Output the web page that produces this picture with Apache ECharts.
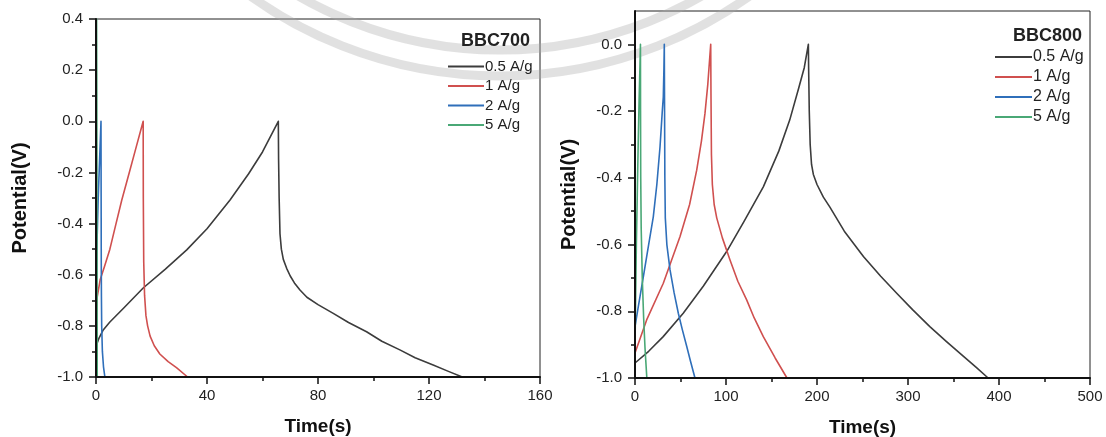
<!DOCTYPE html>
<html>
<head>
<meta charset="utf-8">
<script src="https://cdn.jsdelivr.net/npm/echarts@6/dist/echarts.min.js"></script>
<style>
html,body{margin:0;padding:0;background:#fff;}
#c{width:1106px;height:437px;}
</style>
</head>
<body>
<div id="c"></div>
<script>
// ---------- data: [time (s), potential (V)] ----------
const seriesNames = ['0.5 A/g', '1 A/g', '2 A/g', '5 A/g'];
const titleLeft = 'BBC700';
const titleRight = 'BBC800';

const bbc700_05 = [[0,-0.88],[1,-0.85],[2.6,-0.816],[5,-0.785],[10,-0.73],[17,-0.652],[25,-0.578],[32.7,-0.503],[40,-0.42],[48.3,-0.308],[55,-0.205],[60,-0.12],[65.7,0],
  [65.8,-0.15],[66,-0.3],[66.3,-0.44],[66.8,-0.5],[67.5,-0.54],[68.7,-0.575],[70,-0.605],[71.5,-0.632],[73.5,-0.66],[76,-0.688],[80,-0.717],[85.5,-0.751],[91,-0.787],[97.5,-0.823],[103,-0.86],[109.5,-0.894],[115,-0.925],[121.5,-0.953],[127,-0.978],[132,-1.0]];
const bbc700_1 = [[0,-0.79],[0.4,-0.69],[1.5,-0.62],[3,-0.57],[5,-0.5],[7,-0.41],[9.25,-0.31],[12,-0.2],[14.5,-0.1],[17,0],
  [17.05,-0.3],[17.2,-0.55],[17.5,-0.68],[18,-0.76],[18.6,-0.8],[19.5,-0.84],[21,-0.878],[23,-0.91],[26,-0.94],[29,-0.963],[33,-1.0]];
const bbc700_2 = [[0,-0.8],[0.3,-0.5],[0.8,-0.3],[1.3,-0.15],[1.8,0],
  [1.85,-0.3],[1.9,-0.55],[1.95,-0.68],[2.05,-0.8],[2.3,-0.9],[2.7,-0.96],[3.2,-1.0]];
const bbc700_5 = [[0,-1.0],[0.08,-0.4],[0.15,0.1],[0.22,0.4],[0.3,0.1],[0.38,-0.5],[0.45,-1.0]];

const bbc800_05 = [[0,-0.955],[15,-0.92],[31,-0.876],[53,-0.806],[75,-0.725],[100.7,-0.621],[120,-0.53],[141,-0.427],[158,-0.32],[170,-0.227],[180,-0.13],[186,-0.07],[190.5,0],
  [190.8,-0.07],[191.5,-0.2],[192.5,-0.3],[194,-0.36],[196,-0.39],[200,-0.42],[207,-0.458],[214,-0.487],[230,-0.56],[251,-0.636],[270,-0.695],[287.6,-0.746],[305,-0.795],[324,-0.846],[342,-0.89],[361,-0.935],[375,-0.968],[388,-1.0]];
const bbc800_1 = [[0,-0.925],[12.8,-0.826],[31.1,-0.716],[49.5,-0.576],[60,-0.48],[67.8,-0.377],[73,-0.29],[76.9,-0.207],[80,-0.12],[83.2,0],
  [83.5,-0.15],[84,-0.33],[85,-0.42],[87,-0.48],[89.8,-0.52],[96,-0.58],[104.4,-0.646],[113,-0.71],[122.7,-0.766],[131,-0.82],[141,-0.876],[154,-0.94],[167,-1.0]];
const bbc800_2 = [[0,-0.846],[4,-0.78],[9.2,-0.696],[15,-0.6],[20.1,-0.517],[24,-0.42],[27.5,-0.307],[30,-0.2],[31.1,-0.158],[31.8,-0.07],[32.2,0],
  [32.5,-0.2],[32.8,-0.4],[33.3,-0.52],[35,-0.6],[38.5,-0.676],[43,-0.745],[47.6,-0.806],[52,-0.855],[56.8,-0.905],[61,-0.95],[65.9,-1.0]];
const bbc800_5 = [[0,-0.92],[0.5,-0.8],[1.5,-0.6],[2.5,-0.45],[3.5,-0.3],[4.5,-0.17],[5.5,-0.06],[6,0],
  [6.1,-0.2],[6.3,-0.4],[6.8,-0.55],[8,-0.7],[9.5,-0.82],[11,-0.91],[13,-1.0]];

const yTicksLeft = {min:-1.0, max:0.4, interval:0.2};
const yTicksRight = {min:-1.0, max:0.1, interval:0.2};
const yMajorRight = [-1.0, -0.8, -0.6, -0.4, -0.2, 0.0];
const yMinorRight = [-0.9, -0.7, -0.5, -0.3, -0.1];
const xTicksLeft = {min:0, max:160, interval:40};
const xTicksRight = {min:0, max:500, interval:100};

// ---------- styling ----------
const colors = ['#3c3c3c', '#d0504f', '#2f6fba', '#4aa876'];
const FONT = 'Liberation Sans, Arial, Helvetica, sans-serif';
const AX = '#111';

function xAxisCfg(gi, t) {
  return {
    type:'value', gridIndex:gi, min:t.min, max:t.max, interval:t.interval, z:10,
    name:'Time(s)', nameLocation:'middle', nameGap:40,
    nameTextStyle:{fontFamily:FONT, fontWeight:'bold', fontSize:19, color:'#111'},
    axisLine:{show:true, onZero:false, lineStyle:{color:AX, width:2}},
    axisTick:{show:true, length:7, lineStyle:{color:AX, width:1.5}},
    minorTick:{show:true, splitNumber:2, length:4, lineStyle:{color:AX, width:1.5}},
    axisLabel:{fontFamily:FONT, fontSize:15, color:'#222', margin:11},
    splitLine:{show:false}
  };
}
function fmt1(v){ return (Math.round(v*10)/10).toFixed(1); }
function yAxisLeftCfg() {
  const t = yTicksLeft;
  return {
    type:'value', gridIndex:0, min:t.min, max:t.max, interval:t.interval, z:10,
    name:'Potential(V)', nameLocation:'middle', nameGap:66,
    nameTextStyle:{fontFamily:FONT, fontWeight:'bold', fontSize:20, color:'#111'},
    axisLine:{show:true, onZero:false, lineStyle:{color:AX, width:2}},
    axisTick:{show:true, length:7, lineStyle:{color:AX, width:1.5}},
    minorTick:{show:true, splitNumber:2, length:4, lineStyle:{color:AX, width:1.5}},
    axisLabel:{fontFamily:FONT, fontSize:15, color:'#222', margin:13, formatter:fmt1},
    splitLine:{show:false}
  };
}
function yAxisRightCfg() {
  const t = yTicksRight;
  return {
    type:'value', gridIndex:1, min:t.min, max:t.max, interval:t.interval, z:10,
    name:'Potential(V)', nameLocation:'middle', nameGap:56,
    nameTextStyle:{fontFamily:FONT, fontWeight:'bold', fontSize:20, color:'#111'},
    axisLine:{show:true, onZero:false, lineStyle:{color:AX, width:2}},
    axisTick:{show:true, length:7, customValues:yMajorRight, lineStyle:{color:AX, width:1.5}},
    minorTick:{show:false},
    axisLabel:{fontFamily:FONT, fontSize:15, color:'#222', margin:13, customValues:yMajorRight, formatter:fmt1},
    splitLine:{show:false}
  };
}
function yAxisRightMinorCfg() {
  const t = yTicksRight;
  return {
    type:'value', gridIndex:1, min:t.min, max:t.max, interval:0.1, z:9, position:'left',
    axisLine:{show:false, onZero:false},
    axisTick:{show:true, length:4, customValues:yMinorRight, lineStyle:{color:AX, width:1.5}},
    axisLabel:{show:false},
    splitLine:{show:false}
  };
}
function lineSeries(name, data, gi, ci) {
  return {
    type:'line', name:name, xAxisIndex:gi, yAxisIndex:gi, data:data,
    showSymbol:false, symbol:'none', smooth:false,
    lineStyle:{color:colors[ci], width:1.6, join:'round'}, itemStyle:{color:colors[ci]},
    z:2, silent:true, animation:false
  };
}

const chart = echarts.init(document.getElementById('c'), null, {renderer:'canvas'});
chart.setOption({
  animation:false,
  backgroundColor:'#fff',
  // faint circular watermark bands of the source image
  graphic:[
    {type:'circle', silent:true, z:0, shape:{cx:500, cy:-353, r:429}, style:{fill:null, stroke:'rgba(170,170,170,0.35)', lineWidth:9}},
    {type:'circle', silent:true, z:0, shape:{cx:500, cy:-353, r:403}, style:{fill:null, stroke:'rgba(170,170,170,0.35)', lineWidth:9}}
  ],
  title:[
    {text:titleLeft, right:1106-535, top:27, textStyle:{fontFamily:FONT, fontWeight:'bold', fontSize:18, color:'#222'}},
    {text:titleRight, right:1106-1087, top:22, textStyle:{fontFamily:FONT, fontWeight:'bold', fontSize:18, color:'#222'}}
  ],
  legend:[
    {data:seriesNames, orient:'vertical', left:443, top:54, itemWidth:36, itemHeight:2, itemGap:4.5, icon:'rect',
     textStyle:{fontFamily:FONT, fontSize:15, color:'#222', padding:[0,0,0,-4]}, selectedMode:false},
    {data:seriesNames, orient:'vertical', left:990, top:44, itemWidth:37, itemHeight:2, itemGap:4, icon:'rect',
     textStyle:{fontFamily:FONT, fontSize:16, color:'#222', padding:[0,0,0,-4]}, selectedMode:false}
  ],
  grid:[
    {left:96, right:1106-540, top:19, bottom:437-377, outerBoundsMode:'none', containLabel:false, show:true, borderColor:'#222', borderWidth:1, backgroundColor:'transparent'},
    {left:635, right:1106-1090, top:11, bottom:437-378, outerBoundsMode:'none', containLabel:false, show:true, borderColor:'#222', borderWidth:1, backgroundColor:'transparent'}
  ],
  xAxis:[xAxisCfg(0, xTicksLeft), xAxisCfg(1, xTicksRight)],
  yAxis:[yAxisLeftCfg(), yAxisRightCfg(), yAxisRightMinorCfg()],
  series:[
    lineSeries(seriesNames[0], bbc700_05, 0, 0),
    lineSeries(seriesNames[1], bbc700_1, 0, 1),
    lineSeries(seriesNames[2], bbc700_2, 0, 2),
    lineSeries(seriesNames[3], bbc700_5, 0, 3),
    lineSeries(seriesNames[0], bbc800_05, 1, 0),
    lineSeries(seriesNames[1], bbc800_1, 1, 1),
    lineSeries(seriesNames[2], bbc800_2, 1, 2),
    lineSeries(seriesNames[3], bbc800_5, 1, 3)
  ]
});
</script>
</body>
</html>
